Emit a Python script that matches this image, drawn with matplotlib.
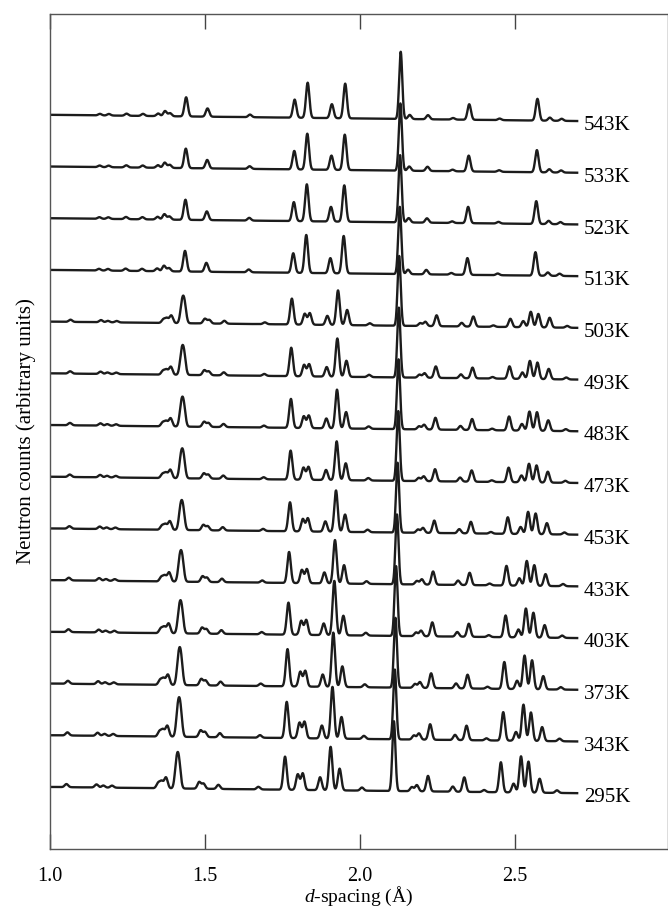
import numpy as np
import matplotlib

matplotlib.use("Agg")
import matplotlib.pyplot as plt

plt.rcParams["font.family"] = ["Liberation Serif", "DejaVu Serif"]
plt.rcParams["mathtext.fontset"] = "custom"
plt.rcParams["mathtext.rm"] = "Liberation Serif"
plt.rcParams["mathtext.it"] = "Liberation Serif:italic"

# temperatures, bottom to top
temps = ["295K", "343K", "373K", "403K", "433K", "453K", "473K",
         "483K", "493K", "503K", "513K", "523K", "533K", "543K"]

# strong reflection near 2.11 A in every pattern (position, height)
main_d = [2.109, 2.112, 2.114, 2.116, 2.119, 2.121, 2.123,
          2.124, 2.125, 2.126, 2.128, 2.129, 2.130, 2.131]
main_h = [1.35, 1.35, 1.35, 1.35, 1.35, 1.35, 1.35,
          1.35, 1.35, 1.35, 1.3, 1.3, 1.3, 1.3]

# low-temperature phase (295K - 503K), positions as read at 295K
low_d = [1.053, 1.150, 1.172, 1.200, 1.349, 1.360, 1.374, 1.481, 1.495,
         1.543, 1.672, 1.799, 1.815, 1.871, 1.934, 2.006, 2.167, 2.183,
         2.219, 2.299, 2.336, 2.400, 2.495, 2.579, 2.635]
low_h = [0.06, 0.06, 0.04, 0.04, 0.10, 0.13, 0.21, 0.13, 0.10,
         0.08, 0.05, 0.30, 0.32, 0.25, 0.42, 0.06, 0.08, 0.12,
         0.30, 0.10, 0.28, 0.04, 0.17, 0.27, 0.05]

# strongest low-phase lines whose heights change with temperature
key_d = [1.408, 1.416, 1.758, 1.905, 2.454, 2.519, 2.543]
key_h = [
    [0.46, 0.46, 0.64, 0.84, 0.58, 0.70, 0.60],  # 295K
    [0.50, 0.50, 0.70, 1.00, 0.55, 0.70, 0.55],  # 343K
    [0.48, 0.48, 0.72, 1.05, 0.52, 0.65, 0.56],  # 373K
    [0.42, 0.42, 0.62, 1.05, 0.42, 0.56, 0.48],  # 403K
    [0.40, 0.40, 0.60, 0.84, 0.38, 0.48, 0.40],  # 433K
    [0.38, 0.38, 0.56, 0.80, 0.32, 0.43, 0.40],  # 453K
    [0.38, 0.38, 0.56, 0.75, 0.28, 0.36, 0.33],  # 473K
    [0.38, 0.38, 0.56, 0.75, 0.27, 0.37, 0.36],  # 483K
    [0.38, 0.38, 0.55, 0.74, 0.24, 0.35, 0.32],  # 493K
    [0.35, 0.35, 0.50, 0.67, 0.16, 0.30, 0.26],  # 503K
]
low_minor_scale = [1.0, 1.0, 0.95, 0.9, 0.85, 0.8, 0.78, 0.76, 0.74, 0.7]
# position of the 1.76 A line in each low-phase pattern (thermal shift)
low_ref_d = [1.760, 1.7655, 1.768, 1.771, 1.773, 1.776, 1.778, 1.779, 1.780, 1.782]

# high-temperature phase (513K - 543K), positions as read at 543K
high_d = [1.161, 1.190, 1.247, 1.300, 1.349, 1.371, 1.387, 1.439, 1.508,
          1.645, 1.789, 1.831, 1.909, 1.952, 2.160, 2.219, 2.300, 2.352,
          2.450, 2.572, 2.612, 2.650]
high_h = [0.03, 0.03, 0.04, 0.04, 0.05, 0.10, 0.06, 0.37, 0.16,
          0.05, 0.35, 0.68, 0.27, 0.67, 0.08, 0.08, 0.03, 0.30,
          0.03, 0.42, 0.06, 0.04]
high_scale = [1.08, 1.05, 1.02, 1.0]
high_shift = [0.9975, 0.9985, 0.9993, 1.0]

d_start, d_end = 1.0, 2.70
baseline_left, baseline_right = 0.06, -0.06
peak_sigma = 0.0055


def profile(x, centres, heights, sigma):
    y = np.zeros_like(x)
    for c, h in zip(centres, heights):
        y += h * np.exp(-0.5 * ((x - c) / sigma) ** 2)
    return y


def pattern(i, x):
    y = np.interp(x, [d_start, d_end], [baseline_left, baseline_right])
    y += profile(x, [main_d[i]], [main_h[i]], 0.0050)
    if i < len(key_h):
        f = low_ref_d[i] / low_ref_d[0]
        y += profile(x, np.array(low_d) * f,
                     np.array(low_h) * low_minor_scale[i], peak_sigma)
        y += profile(x, np.array(key_d) * f, key_h[i], peak_sigma)
    else:
        j = i - len(key_h)
        y += profile(x, np.array(high_d) * high_shift[j],
                     np.array(high_h) * high_scale[j], peak_sigma)
    return y


fig = plt.figure(figsize=(6.68, 9.10), dpi=100)
ax = fig.add_axes([50 / 668, 1 - 849 / 910, 618 / 668, 835 / 910])

x = np.linspace(d_start, d_end, 4000)
for i, label in enumerate(temps):
    ax.plot(x, pattern(i, x) + i, color="#1c1c1c", lw=1.7)
    ax.text(2.722, i - 0.15, label, ha="left", va="center", fontsize=15)

ax.set_xlim(1.0, 2.993)
ax.set_ylim(-1.14, 15.01)
ax.set_xticks([1.0, 1.5, 2.0, 2.5])
ax.set_xticklabels(["1.0", "1.5", "2.0", "2.5"])
ax.set_yticks([])
ax.tick_params(axis="x", direction="in", length=11, width=1.0, top=True,
               labelsize=14.5, pad=13, color="#444444")
for spine in ax.spines.values():
    spine.set_color("#555555")
    spine.set_linewidth(1.0)
ax.set_xlabel(r"$d$-spacing (Å)", fontsize=14, labelpad=-1)
ax.set_ylabel("Neutron counts (arbitrary units)", fontsize=15, labelpad=10)

fig.savefig("out.png", dpi=100)
plt.close(fig)
